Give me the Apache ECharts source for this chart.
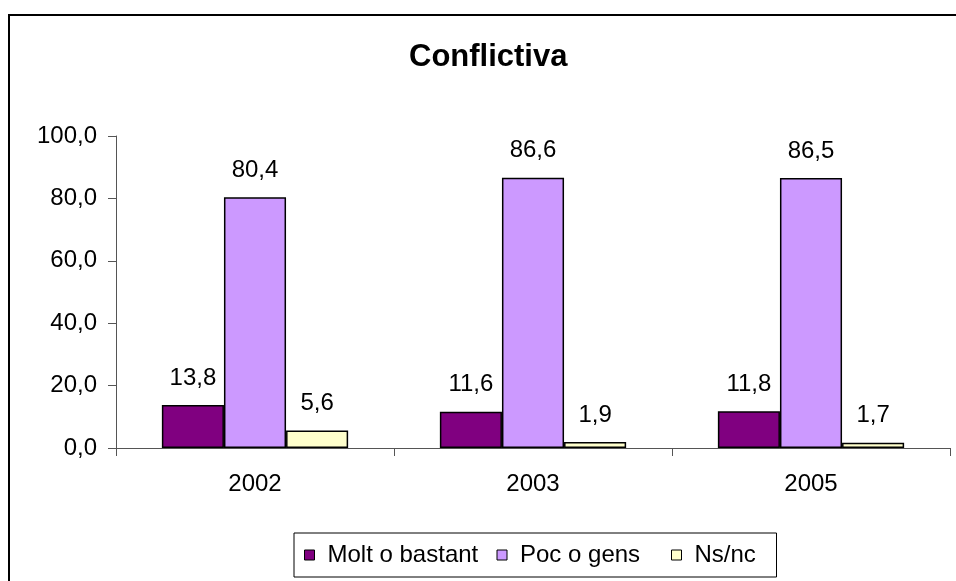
<!DOCTYPE html>
<html>
<head>
<meta charset="utf-8">
<script src="https://cdn.jsdelivr.net/npm/echarts@6/dist/echarts.min.js"></script>
<style>
html,body{margin:0;padding:0;background:#fff;}
#chart{width:956px;height:581px;}
</style>
</head>
<body>
<div id="chart"></div>
<script>
var years = ['2002', '2003', '2005'];
var molt = [13.8, 11.6, 11.8];
var poc = [80.4, 86.6, 86.5];
var ns = [5.6, 1.9, 1.7];
var yTicks = [0, 20, 40, 60, 80, 100];

var font = '"Liberation Sans", Arial, sans-serif';
var fs = 24;

function comma(v) {
    return Number(v).toFixed(1).replace('.', ',');
}

function barSeries(name, data, color) {
    return {
        name: name,
        type: 'bar',
        data: data,
        barGap: '0%',
        barCategoryGap: '33%',
        itemStyle: { color: color, borderColor: '#000', borderWidth: 1.5 },
        label: {
            show: true,
            position: 'top',
            distance: 15,
            color: '#000',
            fontFamily: font,
            fontSize: fs,
            formatter: function (p) { return comma(p.value); }
        }
    };
}

var myChart = echarts.init(document.getElementById('chart'));
var option = {
    backgroundColor: '#fff',
    animation: false,
    graphic: [{
        type: 'rect',
        shape: { x: 9, y: 15, width: 1200, height: 1000 },
        style: { fill: 'none', stroke: '#000', lineWidth: 2 },
        z: 100
    }],
    title: {
        text: 'Conflictiva',
        left: 409,
        top: 42,
        padding: 0,
        textStyle: { fontFamily: font, fontSize: 31, fontWeight: 'bold', color: '#000' }
    },
    legend: {
        left: 294,
        top: 533,
        padding: [10, 10, 10, 10],
        itemGap: 6,
        itemWidth: 10,
        itemHeight: 10,
        icon: 'rect',
        borderColor: '#000',
        borderWidth: 1,
        itemStyle: { borderColor: '#000', borderWidth: 1 },
        textStyle: {
            fontFamily: font,
            fontSize: fs,
            color: '#000',
            rich: {
                a: { fontFamily: font, fontSize: fs, color: '#000', width: 163, padding: [0, 0, 0, 8], lineHeight: 25 },
                b: { fontFamily: font, fontSize: fs, color: '#000', width: 145, padding: [0, 0, 0, 8], lineHeight: 25 },
                c: { fontFamily: font, fontSize: fs, color: '#000', width: 72, padding: [0, 0, 0, 8], lineHeight: 25 }
            }
        },
        formatter: function (name) {
            var key = name === 'Molt o bastant' ? 'a' : (name === 'Poc o gens' ? 'b' : 'c');
            return '{' + key + '|' + name + '}';
        },
        data: ['Molt o bastant', 'Poc o gens', 'Ns/nc']
    },
    grid: { left: 116, right: 6, top: 136, bottom: 133, containLabel: false },
    xAxis: {
        type: 'category',
        data: years,
        axisLine: { lineStyle: { color: '#555', width: 1 } },
        axisTick: { show: true, length: 8, alignWithLabel: false, lineStyle: { color: '#555' } },
        axisLabel: { color: '#000', fontFamily: font, fontSize: fs, margin: 24 }
    },
    yAxis: {
        type: 'value',
        min: 0,
        max: 100,
        interval: 20,
        axisLine: { show: true, lineStyle: { color: '#555', width: 1 } },
        axisTick: { show: true, length: 8, lineStyle: { color: '#555' } },
        splitLine: { show: false },
        axisLabel: {
            color: '#000', fontFamily: font, fontSize: fs, margin: 19,
            formatter: function (v) { return comma(v); }
        }
    },
    series: [
        barSeries('Molt o bastant', molt, '#800080'),
        barSeries('Poc o gens', poc, '#CC99FF'),
        barSeries('Ns/nc', ns, '#FFFFCC')
    ]
};
myChart.setOption(option);
</script>
</body>
</html>
